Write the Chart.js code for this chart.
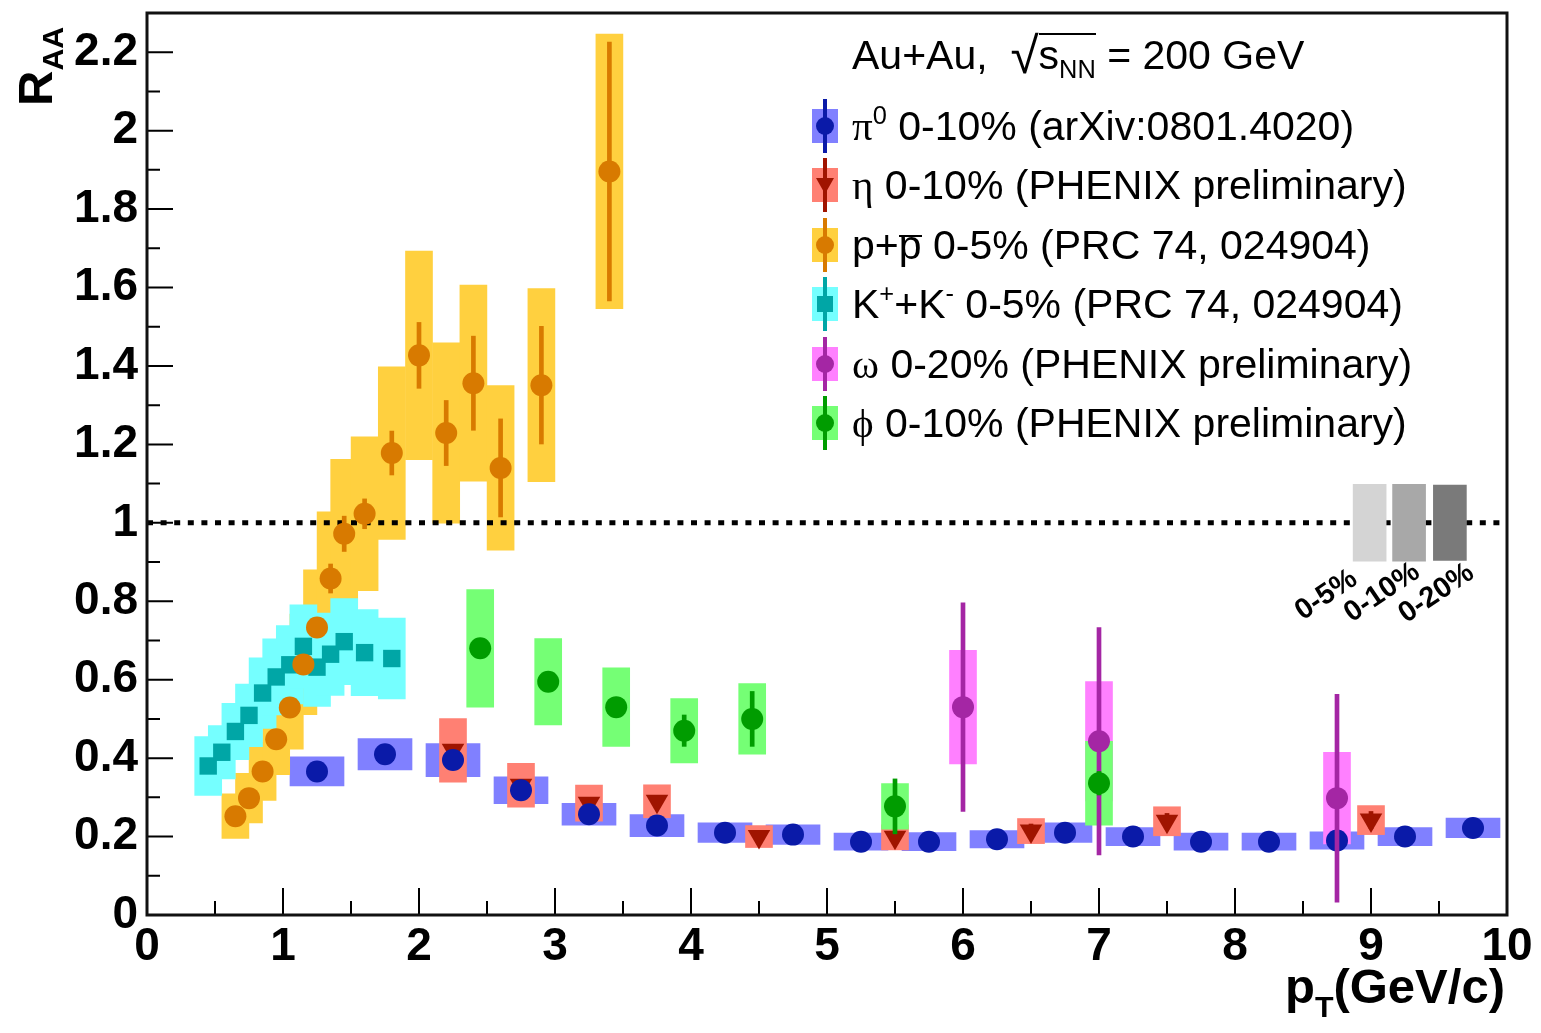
<!DOCTYPE html>
<html>
<head>
<meta charset="utf-8">
<title>RAA vs pT, Au+Au 200 GeV</title>
<script src="https://cdn.jsdelivr.net/npm/chart.js@4/dist/chart.umd.min.js"></script>
<style>
  html, body { margin: 0; padding: 0; background: #fff; }
  #wrap { position: relative; width: 1541px; height: 1033px; overflow: hidden; }
  #chart { position: absolute; left: 0; top: 0; }
  .t { position: absolute; white-space: nowrap; line-height: 1; color: #000; font-family: 'Liberation Sans', Arial, sans-serif; }
  .leg { font-size: 41px; }
  .ax { font-size: 49px; font-weight: bold; }
  .g { font-family: 'Liberation Serif', 'Times New Roman', serif; }
  sup { font-size: 0.62em; position: relative; top: -0.62em; vertical-align: baseline; line-height: 0; }
  sub { font-size: 0.62em; position: relative; top: 0.35em; vertical-align: baseline; line-height: 0; }
  .bar { position: relative; }
  .bar i { position: absolute; left: 0; right: 0; border-top: 2px solid #000; }
  .rad { font-size: 1.25em; position: relative; top: 0.08em; line-height: 0; }
  .ic { position: absolute; }
</style>
</head>
<body>
<div id="wrap">
  <canvas id="chart" width="1541" height="1033"></canvas>
</div>
<script>
// pi0 0-10% (arXiv:0801.4020)
const pi0X = [1.25, 1.75, 2.25, 2.75, 3.25, 3.75, 4.25, 4.75, 5.25, 5.75, 6.25, 6.75, 7.25, 7.75, 8.25, 8.75, 9.25, 9.75];
const pi0Y = [0.366, 0.41, 0.395, 0.318, 0.257, 0.228, 0.21, 0.205, 0.187, 0.187, 0.193, 0.21, 0.2, 0.187, 0.187, 0.19, 0.2, 0.222];
const pi0Stat = [0.008, 0.008, 0.008, 0.008, 0.007, 0.007, 0.007, 0.007, 0.008, 0.009, 0.01, 0.011, 0.012, 0.013, 0.014, 0.015, 0.016, 0.02];
const pi0Sys = [0.037, 0.04, 0.042, 0.034, 0.028, 0.028, 0.025, 0.025, 0.022, 0.023, 0.022, 0.025, 0.023, 0.022, 0.022, 0.022, 0.023, 0.025];

// eta 0-10%
const etaX = [2.25, 2.75, 3.25, 3.75, 4.5, 5.5, 6.5, 7.5, 9.0];
const etaY = [0.42, 0.331, 0.285, 0.29, 0.2, 0.198, 0.214, 0.239, 0.242];
const etaStat = [0.01, 0.01, 0.01, 0.012, 0.012, 0.015, 0.018, 0.02, 0.022];
const etaSys = [0.081, 0.056, 0.046, 0.042, 0.028, 0.032, 0.032, 0.037, 0.037];

// p + pbar 0-5%
const protX = [0.65, 0.75, 0.85, 0.95, 1.05, 1.15, 1.25, 1.35, 1.45, 1.6, 1.8, 2.0, 2.2, 2.4, 2.6, 2.9, 3.4];
const protY = [0.252, 0.298, 0.366, 0.448, 0.529, 0.639, 0.733, 0.858, 0.972, 1.023, 1.178, 1.427, 1.229, 1.356, 1.14, 1.351, 1.896];
const protStat = [0.015, 0.015, 0.015, 0.016, 0.02, 0.02, 0.025, 0.037, 0.045, 0.038, 0.056, 0.084, 0.083, 0.12, 0.125, 0.15, 0.33];
const protSys = [0.057, 0.063, 0.074, 0.09, 0.106, 0.128, 0.147, 0.17, 0.19, 0.196, 0.22, 0.266, 0.23, 0.25, 0.21, 0.246, 0.35];

// K+ + K- 0-5%
const kaonX = [0.45, 0.55, 0.65, 0.75, 0.85, 0.95, 1.05, 1.15, 1.25, 1.35, 1.45, 1.6, 1.8];
const kaonY = [0.38, 0.415, 0.468, 0.509, 0.566, 0.607, 0.638, 0.685, 0.632, 0.665, 0.697, 0.669, 0.654];
const kaonStat = [0.006, 0.006, 0.007, 0.007, 0.008, 0.008, 0.009, 0.01, 0.01, 0.012, 0.013, 0.015, 0.02];
const kaonSys = [0.075, 0.068, 0.072, 0.08, 0.09, 0.097, 0.1, 0.106, 0.1, 0.105, 0.11, 0.11, 0.103];

// omega 0-20%
const omegaX = [6.0, 7.0, 8.75];
const omegaY = [0.53, 0.443, 0.298];
const omegaStat = [0.266, 0.29, 0.265];
const omegaSys = [0.145, 0.152, 0.117];

// phi 0-10%
const phiX = [2.45, 2.95, 3.45, 3.95, 4.45, 5.5, 7.0];
const phiY = [0.68, 0.595, 0.53, 0.47, 0.5, 0.277, 0.336];
const phiStat = [0.02, 0.02, 0.02, 0.04, 0.07, 0.07, 0.03];
const phiSys = [0.15, 0.11, 0.1, 0.082, 0.09, 0.058, 0.107];

// normalisation uncertainty boxes at RAA = 1
const normLabels = ['0-5%', '0-10%', '0-20%'];
const normX = [8.99, 9.28, 9.58];
const normUnc = [0.098, 0.098, 0.096];

const legendLabels = [
  '<span class="g">π</span><sup>0</sup> 0-10% (arXiv:0801.4020)',
  '<span class="g">η</span> 0-10% (PHENIX preliminary)',
  'p+<span class="bar">p<i style="top:0.33em"></i></span> 0-5% (PRC 74, 024904)',
  'K<sup>+</sup>+K<sup>-</sup> 0-5% (PRC 74, 024904)',
  '<span class="g">ω</span> 0-20% (PHENIX preliminary)',
  '<span class="g">ϕ</span> 0-10% (PHENIX preliminary)'
];

const FONT = "'Liberation Sans', Arial, sans-serif";

const col = {
  pi0: ['#0a1aa8', '#8080ff'],
  eta: ['#a01400', '#ff8073'],
  prot: ['#d87a00', '#ffd03f'],
  kaon: ['#00a6a6', '#75ffff'],
  omega: ['#a426a4', '#ff80ff'],
  phi: ['#009c00', '#75ff75']
};

const mk = (xs, ys) => xs.map((x, i) => ({x: x, y: ys[i]}));
const band = (xs, ys, e) => xs.map((x, i) => ({x: x, y: [ys[i] - e[i], ys[i] + e[i]]}));

function boxSet(xs, ys, e, color, w, order) {
  return {type: 'bar', data: band(xs, ys, e), backgroundColor: color, barThickness: w,
    stack: 'all', order: order, borderWidth: 0};
}
function statSet(xs, ys, e, color, order) {
  return {type: 'bar', data: band(xs, ys, e), backgroundColor: color, barThickness: 4,
    stack: 'all', order: order, borderWidth: 0};
}
function markSet(xs, ys, color, style, r, rot, order) {
  return {type: 'scatter', data: mk(xs, ys), pointStyle: style, pointRadius: r, pointRotation: rot,
    pointBackgroundColor: color, pointBorderColor: color, pointBorderWidth: 0, order: order};
}

const datasets = [
  // systematic boxes (back to front: pi0, eta, p, K, omega, phi)
  boxSet(pi0X, pi0Y, pi0Sys, col.pi0[1], 54, 30),
  boxSet(etaX, etaY, etaSys, col.eta[1], 27, 29),
  boxSet(protX, protY, protSys, col.prot[1], 27, 28),
  boxSet(kaonX, kaonY, kaonSys, col.kaon[1], 27, 27),
  boxSet(omegaX, omegaY, omegaSys, col.omega[1], 27, 26),
  boxSet(phiX, phiY, phiSys, col.phi[1], 27, 25),
  // RAA = 1 reference line
  {type: 'line', data: [{x: 0, y: 1}, {x: 10, y: 1}], borderColor: '#000', borderWidth: 5,
    borderDash: [6, 7.6], borderCapStyle: 'butt', pointRadius: 0, order: 22},
  // normalisation boxes
  {type: 'bar', data: normX.map((x, i) => ({x: x, y: [1 - normUnc[i], 1 + normUnc[i]]})),
    backgroundColor: ['#d4d4d4', '#a8a8a8', '#7a7a7a'], barThickness: 33, stack: 'all', order: 21, borderWidth: 0},
  // stat errors + markers
  statSet(etaX, etaY, etaStat, col.eta[0], 16),
  markSet(etaX, etaY, col.eta[0], 'triangle', 13, 180, 15),
  statSet(pi0X, pi0Y, pi0Stat, col.pi0[0], 14),
  markSet(pi0X, pi0Y, col.pi0[0], 'circle', 11, 0, 13),
  statSet(kaonX, kaonY, kaonStat, col.kaon[0], 12),
  markSet(kaonX, kaonY, col.kaon[0], 'rect', 12.3, 0, 11),
  statSet(protX, protY, protStat, col.prot[0], 10),
  markSet(protX, protY, col.prot[0], 'circle', 11, 0, 9),
  statSet(omegaX, omegaY, omegaStat, col.omega[0], 8),
  markSet(omegaX, omegaY, col.omega[0], 'circle', 11, 0, 7),
  statSet(phiX, phiY, phiStat, col.phi[0], 6),
  markSet(phiX, phiY, col.phi[0], 'circle', 11, 0, 5)
];

// ROOT-like inward ticks and frame
const axisDecor = {
  id: 'axisDecor',
  afterDatasetsDraw(chart) {
    const {ctx, chartArea: a, scales: {x, y}} = chart;
    ctx.save();
    ctx.strokeStyle = '#000';
    ctx.lineWidth = 2;
    ctx.beginPath();
    y.ticks.forEach(t => {
      if (t.value <= y.min + 1e-9 || t.value >= y.max - 1e-9) return;
      const py = y.getPixelForValue(t.value);
      ctx.moveTo(a.left, py);
      ctx.lineTo(a.left + (t.label ? 26 : 13), py);
    });
    x.ticks.forEach(t => {
      if (t.value <= x.min + 1e-9 || t.value >= x.max - 1e-9) return;
      const px = x.getPixelForValue(t.value);
      ctx.moveTo(px, a.bottom);
      ctx.lineTo(px, a.bottom - (t.label ? 27 : 14));
    });
    ctx.stroke();
    ctx.lineWidth = 3;
    ctx.strokeStyle = '#111';
    ctx.strokeRect(a.left, a.top, a.right - a.left, a.bottom - a.top);

    // centrality labels under the normalisation boxes
    ctx.fillStyle = '#000';
    ctx.font = 'bold 29px ' + FONT;
    ctx.textAlign = 'right';
    ctx.textBaseline = 'alphabetic';
    const anchors = [[8.91, 0.847], [9.37, 0.865], [9.77, 0.863]];
    normLabels.forEach((s, i) => {
      ctx.save();
      ctx.translate(x.getPixelForValue(anchors[i][0]), y.getPixelForValue(anchors[i][1]));
      ctx.rotate(-34 * Math.PI / 180);
      ctx.fillText(s, 0, 0);
      ctx.restore();
    });
    ctx.restore();
  }
};

const tickFont = {family: FONT, size: 46, weight: 'bold'};

new Chart(document.getElementById('chart'), {
  type: 'bar',
  data: {datasets: datasets},
  options: {
    responsive: false,
    animation: false,
    devicePixelRatio: 1,
    events: [],
    layout: {padding: {left: 0, top: 10, right: 34, bottom: 0}},
    plugins: {legend: {display: false}, tooltip: {enabled: false}},
    scales: {
      x: {
        type: 'linear', min: 0, max: 10, offset: false, stacked: true,
        grid: {display: false, drawTicks: false}, border: {display: false},
        ticks: {
          stepSize: 0.5, autoSkip: false, maxRotation: 0, minRotation: 0, padding: 5,
          color: '#000', font: tickFont,
          callback: v => { const k = Math.round(v * 2); return k % 2 === 0 ? String(k / 2) : ''; }
        },
        afterFit: s => { s.height = 118; s.paddingLeft = 0; s.paddingRight = 0; }
      },
      y: {
        type: 'linear', min: 0, max: 2.3, stacked: false,
        grid: {display: false, drawTicks: false}, border: {display: false},
        ticks: {
          stepSize: 0.1, autoSkip: false, includeBounds: false, padding: 9,
          color: '#000', font: tickFont,
          callback: v => { const k = Math.round(v * 10); return k % 2 === 0 ? String(k / 10) : ''; }
        },
        afterFit: s => { s.width = 147; s.paddingTop = 0; s.paddingBottom = 0; }
      }
    }
  },
  plugins: [axisDecor]
});

// ---- text overlays: legend, header, axis titles ----
const wrap = document.getElementById('wrap');
function addDiv(cls, html, css) {
  const d = document.createElement('div');
  d.className = cls;
  d.innerHTML = html;
  Object.assign(d.style, css);
  wrap.appendChild(d);
  return d;
}

const LF = 41;
const capTop = c => (c - 0.4885 * LF) + 'px';

addDiv('t leg', 'Au+Au,&nbsp; <span class="rad">√</span>' +
  '<span class="bar">s<sub>NN</sub><i style="top:0.02em"></i></span> = 200 GeV',
  {left: '852px', top: capTop(55)});

const legendStyle = [
  [col.pi0, 'circle'], [col.eta, 'tri'], [col.prot, 'circle'],
  [col.kaon, 'square'], [col.omega, 'circle'], [col.phi, 'circle']
];
legendLabels.forEach((html, i) => {
  const cy = 126 + i * 59.4;
  const [c, shape] = legendStyle[i];
  addDiv('ic', '', {left: '812px', top: (cy - 17) + 'px', width: '26px', height: '34px', background: c[1]});
  addDiv('ic', '', {left: '823px', top: (cy - 27) + 'px', width: '4px', height: '54px', background: c[0]});
  if (shape === 'circle') {
    addDiv('ic', '', {left: '816px', top: (cy - 9) + 'px', width: '18px', height: '18px', borderRadius: '50%', background: c[0]});
  } else if (shape === 'square') {
    addDiv('ic', '', {left: '817px', top: (cy - 8) + 'px', width: '16px', height: '16px', background: c[0]});
  } else {
    addDiv('ic', '', {left: '816px', top: (cy - 7) + 'px', width: 0, height: 0,
      borderLeft: '9px solid transparent', borderRight: '9px solid transparent', borderTop: '16px solid ' + c[0]});
  }
  addDiv('t leg', html, {left: '852px', top: capTop(cy)});
});

// axis titles
addDiv('t ax', 'R<sub>AA</sub>', {left: '11px', top: '106px', transform: 'rotate(-90deg)', transformOrigin: 'left top'});
addDiv('t ax', 'p<sub style="top:0.45em">T</sub>(GeV/c)', {right: '36px', top: '962px'});
</script>
</body>
</html>
